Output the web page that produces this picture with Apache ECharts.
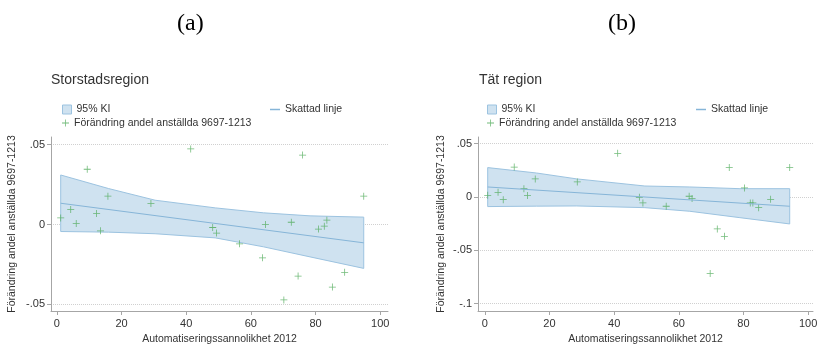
<!DOCTYPE html>
<html>
<head>
<meta charset="utf-8">
<script src="https://cdn.jsdelivr.net/npm/echarts@6/dist/echarts.min.js"></script>
<style>
  html, body { margin: 0; padding: 0; background: #fff; }
  #chart { width: 821px; height: 345px; }
</style>
</head>
<body>
<div id="chart"></div>
<script>
// Storstadsregion (a)
const xA = [1.2, 4.3, 6.0, 9.4, 12.3, 13.5, 15.8, 29.1, 41.4, 48.2, 49.4, 56.5,
            63.6, 64.5, 70.2, 72.5, 74.6, 76.0, 80.9, 82.7, 83.5, 85.2, 89.0, 94.9];
const yA = [0.0041, 0.0094, 0.0006, 0.0346, 0.0069, -0.0040, 0.0177, 0.0131, 0.0473, -0.0019, -0.0054, -0.0121,
            -0.0209, 0.0000, -0.0473, 0.0014, -0.0323, 0.0435, -0.0029, -0.0011, 0.0027, -0.0392, -0.0300, 0.0177];
const kiXA = [1.2, 16, 30.4, 49, 63.9, 78.3, 94.9];
const kiUpA = [0.0310, 0.0225, 0.0152, 0.0104, 0.0073, 0.0054, 0.0046];
const kiLoA = [-0.0044, -0.0048, -0.0058, -0.0084, -0.0140, -0.0203, -0.0275];
const fitA = [[1.2, 0.0133], [94.9, -0.0115]];

// Tät region (b)
const xB = [0.9, 4.1, 5.7, 9.1, 12.1, 13.2, 15.6, 28.6, 41.1, 47.8, 48.9, 56.1,
            63.2, 64.1, 69.7, 71.9, 74.1, 75.6, 80.3, 82.1, 82.9, 84.7, 88.4, 94.3];
const yB = [0.0016, 0.0044, -0.0025, 0.0281, 0.0078, 0.0013, 0.0169, 0.0141, 0.0410, -0.0003, -0.0056, -0.0087,
            0.0007, -0.0015, -0.0719, -0.0300, -0.0369, 0.0276, 0.0085, -0.0056, -0.0056, -0.0100, -0.0022, 0.0276];
const kiXB = [0.9, 16, 28.4, 49.5, 63.4, 78.9, 94.3];
const kiUpB = [0.0276, 0.0225, 0.0170, 0.0103, 0.0094, 0.0078, 0.0078];
const kiLoB = [-0.0090, -0.0086, -0.0084, -0.0100, -0.0134, -0.0194, -0.0253];
const fitB = [[0.9, 0.0094], [94.3, -0.0087]];

const xTicks = [0, 20, 40, 60, 80, 100];
const yTicksA = [-0.05, 0, 0.05];
const yTicksB = [-0.1, -0.05, 0, 0.05];

const KI = '95% KI';
const FIT = 'Skattad linje';
const PTS = 'Förändring andel anställda 9697-1213';

const FONT = 'Liberation Sans, Arial, sans-serif';
const bandFill = '#cfe2f0';
const bandEdge = '#9cc3e0';
const lineCol = '#86b5d8';
const green = '#4daa57';
const plus = 'path://M4,0H5V4H9V5H5V9H4V5H0V4H4Z';

function zipPts(xs, ys) {
    return xs.map((x, i) => [x, ys[i]]);
}

// band polygon: upper edge left->right, lower edge right->left
function bandItem(xs, up, lo) {
    return function (params, api) {
        let pts = [];
        xs.forEach((x, i) => pts.push(api.coord([x, up[i]])));
        for (let i = xs.length - 1; i >= 0; i--) pts.push(api.coord([xs[i], lo[i]]));
        return {
            type: 'polygon',
            shape: { points: pts },
            style: { fill: bandFill, stroke: bandEdge, lineWidth: 1 }
        };
    };
}

function yFmt(v) {
    if (v === 0) return '0';
    return (v < 0 ? '-' : '') + String(Math.abs(v)).replace(/^0/, '');
}

function xAxisCfg(idx, min, max) {
    return {
        type: 'value', gridIndex: idx, min: min, max: max,
        name: 'Automatiseringssannolikhet 2012',
        nameLocation: 'middle', nameGap: 22,
        nameTextStyle: { fontFamily: FONT, fontSize: 10.5, color: '#333' },
        axisLine: { show: true, onZero: false, lineStyle: { color: '#a6a6a6', width: 1 } },
        axisTick: { show: true, length: 4, customValues: xTicks, lineStyle: { color: '#a6a6a6' } },
        axisLabel: { customValues: xTicks, margin: 7, fontFamily: FONT, fontSize: 11, color: '#333' },
        splitLine: { show: false }
    };
}

function yAxisCfg(idx, min, max, ticks, gap) {
    return {
        type: 'value', gridIndex: idx, min: min, max: max,
        name: PTS,
        nameLocation: 'middle', nameGap: gap,
        nameTextStyle: { fontFamily: FONT, fontSize: 10.5, color: '#333' },
        axisLine: { show: true, onZero: false, lineStyle: { color: '#a6a6a6', width: 1 } },
        axisTick: { show: true, length: 4, customValues: ticks, lineStyle: { color: '#a6a6a6' } },
        axisLabel: { customValues: ticks, margin: 6, formatter: yFmt, fontFamily: FONT, fontSize: 11, color: '#333' },
        splitLine: { show: true, lineStyle: { type: 'dotted', color: '#d0d0d0' } }
    };
}

function legendCfg(name, left, top, icon, w, h, style) {
    return {
        data: [{ name: name, icon: icon, itemStyle: style }],
        left: left, top: top, padding: 0,
        itemWidth: w, itemHeight: h, selectedMode: false,
        textStyle: { fontFamily: FONT, fontSize: 10.5, color: '#333' }
    };
}

function panelSeries(idx, xs, ys, kiX, kiUp, kiLo, fit) {
    return [
        {
            name: KI, type: 'custom', xAxisIndex: idx, yAxisIndex: idx,
            data: [[0]], renderItem: bandItem(kiX, kiUp, kiLo),
            itemStyle: { color: bandFill }, silent: true, clip: true
        },
        {
            name: FIT, type: 'line', xAxisIndex: idx, yAxisIndex: idx,
            data: fit, symbol: 'none',
            lineStyle: { color: lineCol, width: 1 }, itemStyle: { color: lineCol }
        },
        {
            name: PTS, type: 'scatter', xAxisIndex: idx, yAxisIndex: idx,
            data: zipPts(xs, ys), symbol: plus, symbolSize: 7,
            itemStyle: { color: green }
        }
    ];
}

const myChart = echarts.init(document.getElementById('chart'));

const boxStyle = { color: bandFill, borderColor: bandEdge, borderWidth: 1 };

const option = {
    backgroundColor: '#fff',
    animation: false,
    title: [
        { text: '(a)', left: 177, top: 12, padding: 0,
          textStyle: { fontFamily: 'Liberation Serif, Times New Roman, serif', fontSize: 24, fontWeight: 'normal', color: '#000' } },
        { text: '(b)', left: 608, top: 12, padding: 0,
          textStyle: { fontFamily: 'Liberation Serif, Times New Roman, serif', fontSize: 24, fontWeight: 'normal', color: '#000' } },
        { text: 'Storstadsregion', left: 51, top: 73, padding: 0,
          textStyle: { fontFamily: FONT, fontSize: 14, fontWeight: 'normal', color: '#333' } },
        { text: 'Tät region', left: 479, top: 73, padding: 0,
          textStyle: { fontFamily: FONT, fontSize: 14, fontWeight: 'normal', color: '#333' } }
    ],
    legend: [
        legendCfg(KI, 62, 104, 'rect', 9, 9, boxStyle),
        legendCfg(FIT, 270, 104, 'rect', 10, 1.5, { color: lineCol }),
        legendCfg(PTS, 62, 117.5, plus, 7, 7, { color: green }),
        legendCfg(KI, 487, 104, 'rect', 9, 9, boxStyle),
        legendCfg(FIT, 696, 104, 'rect', 10, 1.5, { color: lineCol }),
        legendCfg(PTS, 487, 117.5, plus, 7, 7, { color: green })
    ],
    grid: [
        { left: 51, top: 137, width: 337, height: 174, outerBoundsMode: 'none' },
        { left: 478, top: 137, width: 335, height: 174, outerBoundsMode: 'none' }
    ],
    xAxis: [xAxisCfg(0, -1.8, 102.4), xAxisCfg(1, -2.1, 101.5)],
    yAxis: [yAxisCfg(0, -0.0542, 0.0548, yTicksA, 33), yAxisCfg(1, -0.107, 0.0563, yTicksB, 31)],
    series: [].concat(
        panelSeries(0, xA, yA, kiXA, kiUpA, kiLoA, fitA),
        panelSeries(1, xB, yB, kiXB, kiUpB, kiLoB, fitB)
    )
};

option && myChart.setOption(option, true);
</script>
</body>
</html>
